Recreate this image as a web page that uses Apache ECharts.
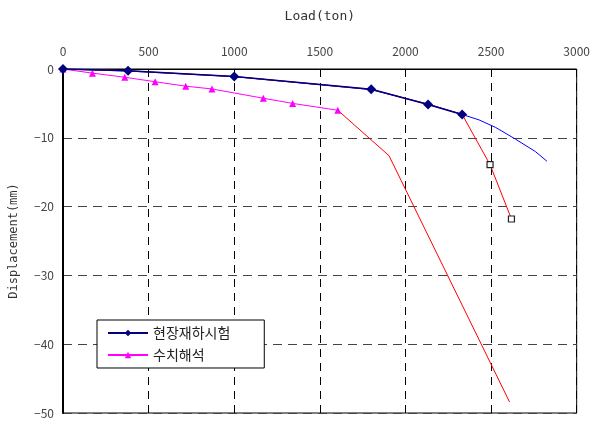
<!DOCTYPE html>
<html>
<head>
<meta charset="utf-8">
<script src="https://cdn.jsdelivr.net/npm/echarts@6/dist/echarts.min.js"></script>
<style>
  html, body { margin: 0; padding: 0; background: #fff; }
  #chart { width: 593px; height: 421px; }
</style>
</head>
<body>
<div id="chart"></div>
<script>
// Pile load test: load (ton) vs. displacement (mm)
const xTicks = [0, 500, 1000, 1500, 2000, 2500, 3000];
const yTicks = [0, -10, -20, -30, -40, -50];

// Field load test (현장재하시험)
const fieldLoad = [0, 380, 1000, 1800, 2132, 2331];
const fieldDisp = [0, -0.25, -1.1, -2.95, -5.15, -6.6];

// Numerical analysis (수치해석)
const femLoad = [0, 172, 361, 538, 717, 870, 1170, 1341, 1605];
const femDisp = [0, -0.6, -1.2, -1.85, -2.5, -2.9, -4.25, -5.0, -6.0];

// Numerical analysis continued beyond the last marked step
const femTailLoad = [1605, 1904, 2608];
const femTailDisp = [-6.0, -12.6, -48.4];

// Field test extrapolated branch (square markers)
const fieldTailLoad = [2331, 2494, 2619];
const fieldTailDisp = [-6.6, -13.9, -21.8];

// Fitted curve through the field test
const fitLoad = [0, 380, 1000, 1800, 2132, 2331, 2430, 2527, 2643, 2759, 2826];
const fitDisp = [0, -0.3, -1.1, -3.0, -5.1, -6.6, -7.4, -8.5, -10.2, -12.0, -13.4];

const zip = (xs, ys) => xs.map((x, i) => [x, ys[i]]);

const FONT = '"Noto Sans CJK KR", "DejaVu Sans", sans-serif';
const MONO = '"DejaVu Sans Mono", monospace';
const chart = echarts.init(document.getElementById('chart'));

chart.setOption({
  animation: false,
  backgroundColor: '#fff',
  textStyle: { fontFamily: FONT },
  grid: {
    left: 61, top: 69, right: 15, bottom: 8,
    show: true, borderColor: '#000', borderWidth: 1, backgroundColor: 'transparent'
  },
  xAxis: {
    type: 'value', position: 'top',
    min: xTicks[0], max: xTicks[xTicks.length - 1], interval: 500,
    name: 'Load(ton)', nameLocation: 'middle', nameGap: 46,
    nameTextStyle: { fontSize: 13, color: '#333', fontFamily: MONO },
    axisLine: { show: true, onZero: false, lineStyle: { color: '#000', width: 1 } },
    axisTick: { show: true, inside: true, length: 6, lineStyle: { color: '#000' } },
    axisLabel: { fontSize: 12, color: '#444', margin: 12, fontFamily: FONT,
                 formatter: v => String(v) },
    splitLine: { show: true, lineStyle: { color: '#000', type: [8, 6], width: 1 } }
  },
  yAxis: {
    type: 'value',
    min: yTicks[yTicks.length - 1], max: yTicks[0], interval: 10,
    name: 'Displacement(mm)', nameLocation: 'middle', nameGap: 43, nameRotate: 90,
    nameTextStyle: { fontSize: 12, color: '#333', fontFamily: MONO },
    axisLine: { show: true, onZero: false, lineStyle: { color: '#000', width: 2 } },
    axisTick: { show: false },
    axisLabel: { fontSize: 12, color: '#444', margin: 9, fontFamily: FONT,
                 formatter: v => (v < 0 ? '\u2212' + Math.abs(v) : String(v)) },
    splitLine: { show: true, lineStyle: { color: '#444', type: [9, 6], width: 1 } }
  },
  legend: {
    left: 97, top: 320, orient: 'vertical',
    backgroundColor: '#fff', borderColor: '#000', borderWidth: 1,
    padding: [6, 34, 6, 10], itemGap: 8, itemWidth: 40, itemHeight: 8,
    textStyle: { fontSize: 14, color: '#222', fontFamily: FONT },
    data: ['현장재하시험', '수치해석']
  },
  series: [
    {
      name: 'fit', type: 'line', data: zip(fitLoad, fitDisp),
      showSymbol: false, silent: true, z: 1,
      lineStyle: { color: '#0000ff', width: 1 }
    },
    {
      name: 'field-tail', type: 'line',
      data: zip(fieldLoad, fieldDisp).concat(zip(fieldTailLoad, fieldTailDisp).slice(1)),
      symbol: (v, p) => (p.dataIndex >= fieldLoad.length ? 'rect' : 'none'),
      symbolSize: 6, z: 2,
      itemStyle: { color: '#fff', borderColor: '#222', borderWidth: 1.2 },
      lineStyle: { color: '#ff0000', width: 1 }
    },
    {
      name: 'fem-tail', type: 'line', data: zip(femTailLoad, femTailDisp),
      showSymbol: false, z: 2,
      lineStyle: { color: '#ff0000', width: 1 }
    },
    {
      name: '현장재하시험', type: 'line', data: zip(fieldLoad, fieldDisp),
      symbol: 'diamond', symbolSize: 10, z: 4,
      itemStyle: { color: '#000080' },
      lineStyle: { color: '#000080', width: 1.5 }
    },
    {
      name: '수치해석', type: 'line', data: zip(femLoad, femDisp),
      symbol: 'triangle', symbolSize: 7, z: 3,
      itemStyle: { color: '#ff00ff' },
      lineStyle: { color: '#ff00ff', width: 1 }
    }
  ]
});
</script>
</body>
</html>
